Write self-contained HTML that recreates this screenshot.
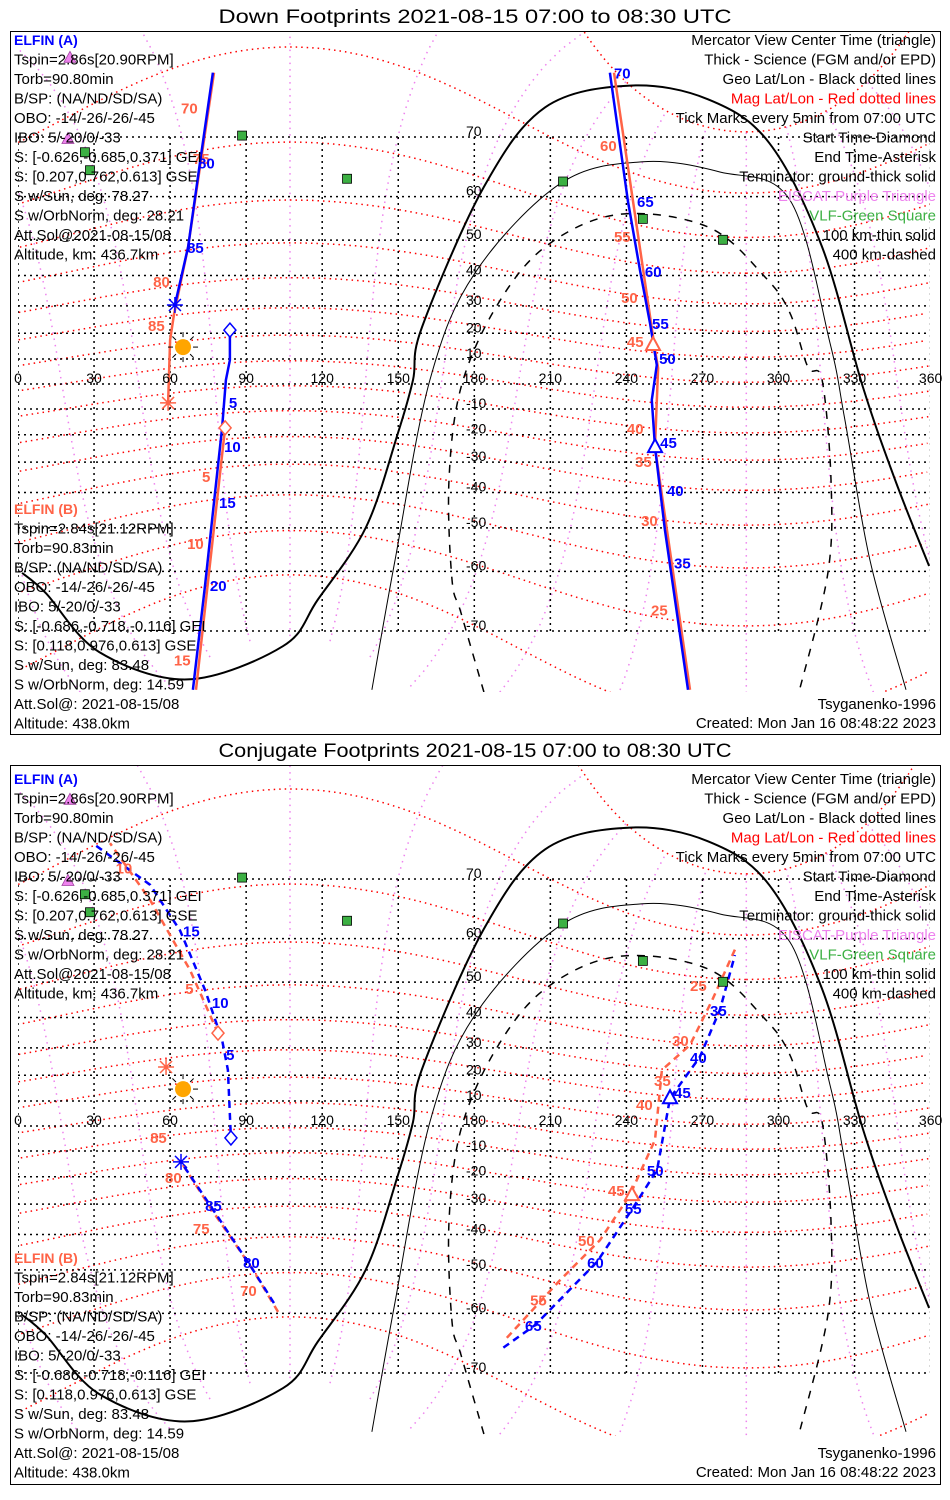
<!DOCTYPE html>
<html><head><meta charset="utf-8">
<style>
html,body{margin:0;padding:0;background:#fff;}
svg{display:block;font-family:"Liberation Sans",sans-serif;}
.t{font-size:15px;fill:#000;}
.ax{font-size:14px;fill:#000;}
.tk{font-size:15px;font-weight:bold;}
</style></head>
<body>
<svg id="chart" width="950" height="1500" viewBox="0 0 950 1500" xmlns="http://www.w3.org/2000/svg"></svg>
<script>
// ---------- DATA (lon, lat in degrees) ----------
const termGround = [[1.6,-60.3],[11,-64.1],[32,-72.7],[67,-75.7],[104.5,-72.0],[118.3,-65.2],[137.3,-49.8],[149.9,-19.3],[155.8,1.6],[159.4,22.4],[183.8,61.9],[207.9,73.7],[241.4,76.0],[272.2,74.6],[296.3,69.2],[317.2,48.2],[333.3,-1.2],[346,-36.0],[359.4,-58.9]];
const term100 = [[139.6,-76.7],[148.7,-57.7],[162.5,1.6],[180.3,40.8],[214.2,62.6],[246.5,66.3],[276.9,64.6],[304.5,59.3],[320.3,16.3],[326.2,-14.3],[336.1,-57.7],[350.3,-76.7]];
const term400 = [[183.8,-76.9],[174.8,-67.4],[171.2,-61.6],[170,-36.0],[174.8,-1.2],[188.6,29.6],[207.9,48.2],[236.7,56.2],[272.2,53.3],[294.7,39.5],[304.5,27.5],[311.6,6.8],[317.2,1.6],[320.7,-36.0],[319.5,-60.3],[308.1,-76.9]];
const vlfSites = [[88.4,70.2],[26.4,67.8],[28.4,64.9],[129.8,63.4],[215,62.9],[246.5,55.2],[278.1,50.1]];
const eiscatSites = [[20.5,78.5],[19.7,69.8]];
const sunPos = [65.1,14.7];

// Panel 1 (down footprints)
const downA_seg1 = [[76.9,77.2],[71.8,66.2],[67.1,48.2],[61.9,30.3]];
const downA_seg2 = [[83.6,21.2],[83.6,9.6],[82,1.6],[80.5,-17.4],[77.3,-42.9],[73.8,-62.6],[69,-76.7]];
const downA_seg3 = [[233.5,77.2],[240.6,59.1],[245.4,41.4],[249.3,23.8],[252,7.6],[250,-6.4],[251.3,-24.6],[255.2,-50.5],[264.3,-76.7]];
const downB_seg1 = [[77.3,77.2],[67.1,48.2],[61.5,26.8],[60,17.4],[59.2,-7.6]];
const downB_seg2 = [[81.7,-17.4],[70.2,-76.7]];
const downB_seg3 = [[235.1,77.2],[251.3,13.6],[252.5,6.4],[251.3,-24.6],[265.1,-76.7]];
const downA_tickText = ['80','85','5','10','15','20','70','65','60','55','50','45','40','35'];
const downA_tickPos = [[71,66.2],[66.7,48.2],[83.2,-7.2],[81.3,-24.2],[79.3,-42.9],[75.7,-62.6],[235.1,77.2],[244.2,59.1],[247.3,41.4],[250.1,23.8],[252.9,10.4],[253.3,-22.7],[256,-39.2],[258.8,-58.2]];
const downB_tickText = ['70','75','80','85','5','10','15','60','55','50','45','40','35','30','25'];
const downB_tickPos = [[64.3,73.7],[69,66.9],[53.3,38.3],[51.3,23.1],[72.6,-34.7],[66.7,-53.8],[61.5,-73.6],[229.6,68.9],[235.1,51.1],[237.9,33.0],[240.2,17.0],[240.2,-17.4],[243.4,-29.6],[245.8,-47.9],[249.7,-66.8]];
const downMarks = {aStart:[83.6,21.2], aEnd:[61.9,30.3], aCenter:[251.3,-24.6], bStart:[81.7,-17.4], bEnd:[59.2,-7.6], bCenter:[250.5,15.5]};

// Panel 2 (conjugate footprints)
const conjA_seg1 = [[84,-4.8],[82.8,22.0],[80.5,32.7],[73.8,47.9],[63.9,61.6],[52.1,69.2],[30.4,74.2]];
const conjA_seg2 = [[64.3,-14.3],[75.7,-30.3],[91.5,-48.8],[101.4,-58.2]];
const conjA_seg3 = [[282.8,56.5],[276.9,42.3],[269,26.8],[257.2,11.1],[252.1,-17.4],[242.6,-31.3],[228.4,-47.9],[203.9,-62.3],[190.1,-66.6]];
const conjB_seg1 = [[78.9,35.0],[67.9,53.0],[52.1,66.9],[36.3,74.4]];
const conjB_seg2 = [[65.1,-15.5],[76.5,-32.0],[92.3,-49.6],[102.6,-59.7]];
const conjB_seg3 = [[282.8,57.7],[273.9,45.2],[265.1,31.0],[254,22.0],[251.3,-5.6],[241.4,-26.8],[229.6,-41.7],[213.8,-52.6],[192.1,-64.9]];
const conjA_tickText = ['15','10','5','85','80','55','50','45','40','35','60','65'];
const conjA_tickPos = [[65.1,61.6],[76.5,44.6],[82.1,27.8],[73.8,-30.3],[88.8,-47.9],[239.4,-31.3],[248.1,-17.4],[258.8,13.6],[265.1,26.8],[273,42.3],[224.5,-47.9],[200,-62.3]];
const conjB_tickText = ['85','80','75','70','25','30','35','40','45','50','55','10','5'];
const conjB_tickPos = [[52.1,-4.4],[58,-20.1],[69,-37.9],[87.6,-54.9],[265.1,49.2],[258,32.7],[250.9,18.2],[243.8,8.8],[232.7,-25.0],[220.9,-41.7],[202,-57.1],[38.5,71.5],[66,48.5]];
const conjMarks = {aStart:[84,-4.8], aEnd:[64.3,-14.3], aCenter:[257.2,11.1], bStart:[78.9,35.0], bEnd:[58.4,23.1], bCenter:[242.2,-26.8]};

const lonTicks = [0,30,60,90,120,150,180,210,240,270,300,330,360];
const latTicks = [70,60,50,40,30,20,10,-10,-20,-30,-40,-50,-60,-70];

const textA = ['Tspin=2.86s[20.90RPM]','Torb=90.80min','B/SP: (NA/ND/SD/SA)','OBO: -14/-26/-26/-45','IBO: 5/-20/0/-33','S: [-0.626,-0.685,0.371] GEI','S: [0.207,0.762,0.613] GSE','S w/Sun, deg: 78.27','S w/OrbNorm, deg: 28.21','Att.Sol@2021-08-15/08','Altitude, km: 436.7km'];
const textB = ['Tspin=2.84s[21.12RPM]','Torb=90.83min','B/SP: (NA/ND/SD/SA)','OBO: -14/-26/-26/-45','IBO: 5/-20/0/-33','S: [-0.686,-0.718,-0.116] GEI','S: [0.118,0.976,0.613] GSE','S w/Sun, deg: 83.48','S w/OrbNorm, deg: 14.59','Att.Sol@: 2021-08-15/08','Altitude: 438.0km'];
const legendText = ['Mercator View Center Time (triangle)','Thick - Science (FGM and/or EPD)','Geo Lat/Lon - Black dotted lines','Mag Lat/Lon - Red dotted lines','Tick Marks every 5min from 07:00 UTC','Start Time-Diamond','End Time-Asterisk','Terminator: ground-thick solid','EISCAT-Purple Triangle','VLF-Green Square','100 km-thin solid','400 km-dashed'];
const legendColor = ['#000','#000','#000','#ff0000','#000','#000','#000','#000','#ee82ee','#3cb043','#000','#000'];

// ---------- RENDER ----------
const NS='http://www.w3.org/2000/svg';
const svg=document.getElementById('chart');
const BLUE='#0000ff', ORANGE='#ff6347';
const K=142.3;
function xOf(lon){return 18+lon*2.535;}
function yOf(lat,Y0){const r=lat*Math.PI/180;return Y0-K*Math.log(Math.tan(Math.PI/4+r/2));}
function mk(tag,attrs,parent){const e=document.createElementNS(NS,tag);for(const k in attrs)e.setAttribute(k,attrs[k]);(parent||svg).appendChild(e);return e;}
function smooth(pts){
  let d='M'+pts[0][0].toFixed(1)+','+pts[0][1].toFixed(1);
  for(let i=0;i<pts.length-1;i++){
    const p0=pts[i-1]||pts[i],p1=pts[i],p2=pts[i+1],p3=pts[i+2]||p2;
    const c1=[p1[0]+(p2[0]-p0[0])/6,p1[1]+(p2[1]-p0[1])/6];
    const c2=[p2[0]-(p3[0]-p1[0])/6,p2[1]-(p3[1]-p1[1])/6];
    d+=' C'+c1[0].toFixed(1)+','+c1[1].toFixed(1)+' '+c2[0].toFixed(1)+','+c2[1].toFixed(1)+' '+p2[0].toFixed(1)+','+p2[1].toFixed(1);
  }
  return d;
}
function linear(pts){return 'M'+pts.map(p=>p[0].toFixed(1)+','+p[1].toFixed(1)).join(' L');}
const pl=80.7*Math.PI/180, pn=-72.7*Math.PI/180;
const P=[Math.cos(pl)*Math.cos(pn),Math.cos(pl)*Math.sin(pn),Math.sin(pl)];
let X=[-P[0]*P[2],-P[1]*P[2],1-P[2]*P[2]];let nx=Math.hypot(...X);X=X.map(v=>-v/nx);
const Yv=[P[1]*X[2]-P[2]*X[1],P[2]*X[0]-P[0]*X[2],P[0]*X[1]-P[1]*X[0]];
function mag2geo(ml,mo){const a=ml*Math.PI/180,b=mo*Math.PI/180;
  const v=[0,1,2].map(i=>Math.cos(a)*Math.cos(b)*X[i]+Math.cos(a)*Math.sin(b)*Yv[i]+Math.sin(a)*P[i]);
  let lon=Math.atan2(v[1],v[0])*180/Math.PI;if(lon<0)lon+=360;return [lon,Math.asin(v[2])*180/Math.PI];}
function polyBreak(pts,Y0){const segs=[];let cur=[];let prev=null;
  for(const g of pts){const p=[xOf(g[0]),yOf(Math.max(-85,Math.min(85,g[1])),Y0)];
    if(prev&&Math.abs(p[0]-prev[0])>300){if(cur.length>1)segs.push(cur);cur=[];}
    cur.push(p);prev=p;}
  if(cur.length>1)segs.push(cur);return segs.map(s=>linear(s)).join(' ');}

function track(g,pts,Y0,color,name,dashed,offset){
  const d=linear(pts.map(p=>[xOf(p[0]),yOf(p[1],Y0)]));
  const e=mk('path',{d:d,fill:'none',stroke:color,'stroke-width':2.5,'stroke-linejoin':'round'},g);
  if(dashed){e.setAttribute('stroke-dasharray','7,5');e.setAttribute('stroke-dashoffset',offset||0);}
  
  
}
function diamond(g,p,Y0,color,name){const x=xOf(p[0]),y=yOf(p[1],Y0);
  const e=mk('path',{d:`M${x},${y-7} L${x+6},${y} L${x},${y+7} L${x-6},${y} Z`,fill:'#fff',stroke:color,'stroke-width':1.5},g);
  }
function asterisk(g,p,Y0,color,name){const x=xOf(p[0]),y=yOf(p[1],Y0);
  const e=mk('path',{d:`M${x-8},${y} L${x+8},${y} M${x},${y-8} L${x},${y+8} M${x-6},${y-6} L${x+6},${y+6} M${x-6},${y+6} L${x+6},${y-6}`,stroke:color,'stroke-width':1.5,fill:'none'},g);
  }
function tri(g,p,Y0,color,name,fill){const x=xOf(p[0]),y=yOf(p[1],Y0);
  const e=mk('path',{d:`M${x},${y-8} L${x+7},${y+5} L${x-7},${y+5} Z`,fill:fill||'#fff',stroke:color,'stroke-width':2},g);
  }

function panel(cfg){
  const g=mk('g',{});
  
  
  const box=mk('rect',{x:10.5,y:cfg.boxY+0.5,width:930,height:cfg.boxH,fill:'none',stroke:'#000','stroke-width':1},g);
  
  const title=mk('text',{x:475,y:cfg.boxY-8,'text-anchor':'middle','font-size':19,textLength:513,lengthAdjust:'spacingAndGlyphs'},g);
  title.textContent=cfg.title;
  
  const Y0=cfg.Y0;
  const cid='clip'+cfg.id;
  const cp=mk('clipPath',{id:cid},g);mk('rect',{x:18,y:cfg.boxY+1,width:912,height:cfg.mapBot-cfg.boxY-1},cp);
  const m=mk('g',{'clip-path':`url(#${cid})`},g);
  
  const mg=mk('g',{},m);
  for(let mo=0;mo<360;mo+=30){const pts=[];for(let ml=-80;ml<=80;ml+=2)pts.push(mag2geo(ml,mo));
    mk('path',{d:polyBreak(pts,Y0),fill:'none',stroke:'#ee82ee','stroke-width':1.5,'stroke-dasharray':'1.5,5'},mg);}
  const rg=mk('g',{},m);
  for(let ml=-70;ml<=80;ml+=10){const pts=[];for(let mo=0;mo<=360;mo+=2)pts.push(mag2geo(ml,mo));
    mk('path',{d:polyBreak(pts,Y0),fill:'none',stroke:'#ff0000','stroke-width':1.5,'stroke-dasharray':'1.5,4'},rg);}
  const gg=mk('g',{},m);
  latTicks.concat([0]).forEach(l=>{const y=yOf(l,Y0);mk('line',{x1:18,x2:930,y1:y,y2:y,stroke:'#000','stroke-width':1.5,'stroke-dasharray':'2,4'},gg);});
  lonTicks.forEach(l=>{const x=xOf(l);mk('line',{x1:x,x2:x,y1:yOf(70,Y0),y2:yOf(-70,Y0),stroke:'#000','stroke-width':1.5,'stroke-dasharray':'2,4'},gg);});
  const tg=mk('path',{d:smooth(termGround.map(p=>[xOf(p[0]),yOf(p[1],Y0)])),fill:'none',stroke:'#000','stroke-width':2},m);
  
  const t1=mk('path',{d:smooth(term100.map(p=>[xOf(p[0]),yOf(p[1],Y0)])),fill:'none',stroke:'#000','stroke-width':1},m);
  
  const t4=mk('path',{d:smooth(term400.map(p=>[xOf(p[0]),yOf(p[1],Y0)])),fill:'none',stroke:'#000','stroke-width':1.5,'stroke-dasharray':'8,8'},m);
  
  lonTicks.forEach(l=>{const e=mk('text',{x:xOf(l),y:yOf(0,Y0)-1,'text-anchor':'middle',class:'ax'},g);e.textContent=String(l);
    });
  latTicks.forEach(l=>{const e=mk('text',{x:466,y:yOf(l,Y0)-1,class:'ax'},g);e.textContent=String(l);
    });
  vlfSites.forEach(p=>{const x=xOf(p[0]),y=yOf(p[1],Y0);const e=mk('rect',{x:x-4.5,y:y-4.5,width:9,height:9,fill:'#3cb043',stroke:'#000','stroke-width':0.8},g);
    });
  eiscatSites.forEach(p=>{const x=xOf(p[0]),y=yOf(p[1],Y0);const e=mk('path',{d:`M${x},${y-6} L${x+6},${y+5} L${x-6},${y+5} Z`,fill:'#ee82ee',stroke:'#a040a0','stroke-width':0.8},g);
    });
  const sx=xOf(sunPos[0]),sy=yOf(sunPos[1],Y0);
  const sg=mk('g',{},g);
  for(let a=0;a<360;a+=45){const r=a*Math.PI/180;mk('line',{x1:sx+10*Math.cos(r),y1:sy+10*Math.sin(r),x2:sx+15*Math.cos(r),y2:sy+15*Math.sin(r),stroke:'#000','stroke-width':1},sg);}
  mk('circle',{cx:sx,cy:sy,r:8,fill:'#ffa500'},sg);
  const dash=cfg.dashed;
  cfg.bSegs.forEach(s=>track(m,s,Y0,ORANGE,'elfin-b-track',dash,0));
  cfg.aSegs.forEach(s=>track(m,s,Y0,BLUE,'elfin-a-track',dash,6));
  cfg.bTickText.forEach((t,i)=>{const p=cfg.bTickPos[i];const e=mk('text',{x:xOf(p[0]),y:yOf(p[1],Y0)+6,class:'tk',fill:ORANGE},g);e.textContent=t;
    });
  cfg.aTickText.forEach((t,i)=>{const p=cfg.aTickPos[i];const e=mk('text',{x:xOf(p[0]),y:yOf(p[1],Y0)+6,class:'tk',fill:BLUE},g);e.textContent=t;
    });
  const mm=cfg.marks;
  diamond(g,mm.aStart,Y0,BLUE,'elfin-a-start-diamond');
  diamond(g,mm.bStart,Y0,ORANGE,'elfin-b-start-diamond');
  asterisk(g,mm.aEnd,Y0,BLUE,'elfin-a-end-asterisk');
  asterisk(g,mm.bEnd,Y0,ORANGE,'elfin-b-end-asterisk');
  tri(g,mm.bCenter,Y0,ORANGE,'elfin-b-center-triangle');
  tri(g,mm.aCenter,Y0,BLUE,'elfin-a-center-triangle');
  const ta=cfg.tOff, tb=cfg.bOff;
  const h=mk('text',{x:14,y:45+ta,'font-size':14,'font-weight':'bold',fill:BLUE},g);h.textContent='ELFIN (A)';
  
  textA.forEach((s,i)=>{const e=mk('text',{x:14,y:64.5+19.5*i+ta,class:'t'},g);e.textContent=s;
    });
  const hb=mk('text',{x:14,y:514+tb,'font-size':14,'font-weight':'bold',fill:ORANGE},g);hb.textContent='ELFIN (B)';
  
  textB.forEach((s,i)=>{const e=mk('text',{x:14,y:533.5+19.5*i+tb,class:'t'},g);e.textContent=s;
    });
  legendText.forEach((s,i)=>{const e=mk('text',{x:936,y:45+19.5*i+ta,'text-anchor':'end',class:'t'},g);e.textContent=s;
    e.style.fill=legendColor[i];
    });
  const ts=mk('text',{x:936,y:709+tb,'text-anchor':'end',class:'t'},g);ts.textContent='Tsyganenko-1996';
  
  const cr=mk('text',{x:936,y:728+tb,'text-anchor':'end',class:'t'},g);cr.textContent='Created: Mon Jan 16 08:48:22 2023';
  
}

panel({id:1,name:'down-footprints-panel',title:'Down Footprints 2021-08-15 07:00 to 08:30 UTC',boxY:31,boxH:703,Y0:384,mapBot:692,tOff:0,bOff:0,dashed:false,
  aSegs:[downA_seg1,downA_seg2,downA_seg3],bSegs:[downB_seg1,downB_seg2,downB_seg3],
  aTickText:downA_tickText,aTickPos:downA_tickPos,bTickText:downB_tickText,bTickPos:downB_tickPos,marks:downMarks});
panel({id:2,name:'conjugate-footprints-panel',title:'Conjugate Footprints 2021-08-15 07:00 to 08:30 UTC',boxY:765,boxH:719,Y0:1126,mapBot:1436,tOff:739,bOff:749,dashed:true,
  aSegs:[conjA_seg1,conjA_seg2,conjA_seg3],bSegs:[conjB_seg1,conjB_seg2,conjB_seg3],
  aTickText:conjA_tickText,aTickPos:conjA_tickPos,bTickText:conjB_tickText,bTickPos:conjB_tickPos,marks:conjMarks});
</script>
</body></html>
